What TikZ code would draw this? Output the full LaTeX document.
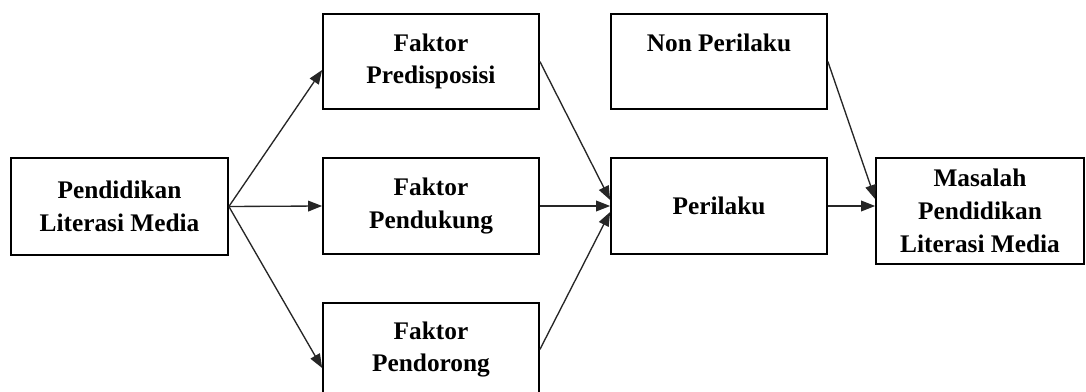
\documentclass[tikz,border=0pt]{standalone}
\usepackage{fontspec}
\setmainfont{Liberation Serif}
\usetikzlibrary{arrows.meta,calc}
\begin{document}
\begin{tikzpicture}[x=0.75pt,y=-0.75pt,
  box/.style={draw=black,line width=1.3pt,inner sep=0pt,align=center,
    font=\fontsize{19}{24.5}\selectfont\bfseries,minimum width=162pt,minimum height=72pt},
  txt/.style={inner sep=0pt,font=\fontsize{19}{24.5}\selectfont\bfseries},
  arr/.style={draw=black!85,line width=1pt,-{Triangle[length=10.5pt,width=8pt]}}]
\useasboundingbox (0,0) rectangle (1086,392);
\clip (0,0) rectangle (1086,392);
\fill[white] (0,0) rectangle (1086,392);
\node[box,minimum width=162.75pt,minimum height=72.75pt] (A) at (119.5,206.5) {Pendidikan\\Literasi Media};
\node[box,minimum height=71.25pt] (B) at (431,61.5) {Faktor\\Predisposisi};
\node[box] (C) at (431,206) {Faktor\\Pendukung};
\node[box,minimum height=69.75pt] (D) at (431,349.5) {Faktor\\Pendorong};
\node[box,minimum height=71.25pt] (E) at (719,61.5) {};
\node[txt,anchor=base] (Et) at (719,52) {Non Perilaku};
\node[box] (F) at (719,206) {Perilaku};
\node[box,minimum width=156pt,minimum height=79.5pt] (G) at (980,211) {Masalah\\Pendidikan\\Literasi Media};
\draw[arr] (A.east) -- ($(B.west)+(0,8.5)$);
\draw[arr] (A.east) -- (C.west);
\draw[arr] (A.east) -- ($(D.west)+(0,18.5)$);
\draw[arr] (B.east) -- ($(F.west)+(0,-6)$);
\draw[arr] (C.east) -- (F.west);
\draw[arr] (D.east) -- ($(F.west)+(0,6)$);
\draw[arr] (E.east) -- ($(G.west)+(0,-12)$);
\draw[arr] (F.east) -- ($(G.west)+(0,-5)$);
\end{tikzpicture}
\end{document}
